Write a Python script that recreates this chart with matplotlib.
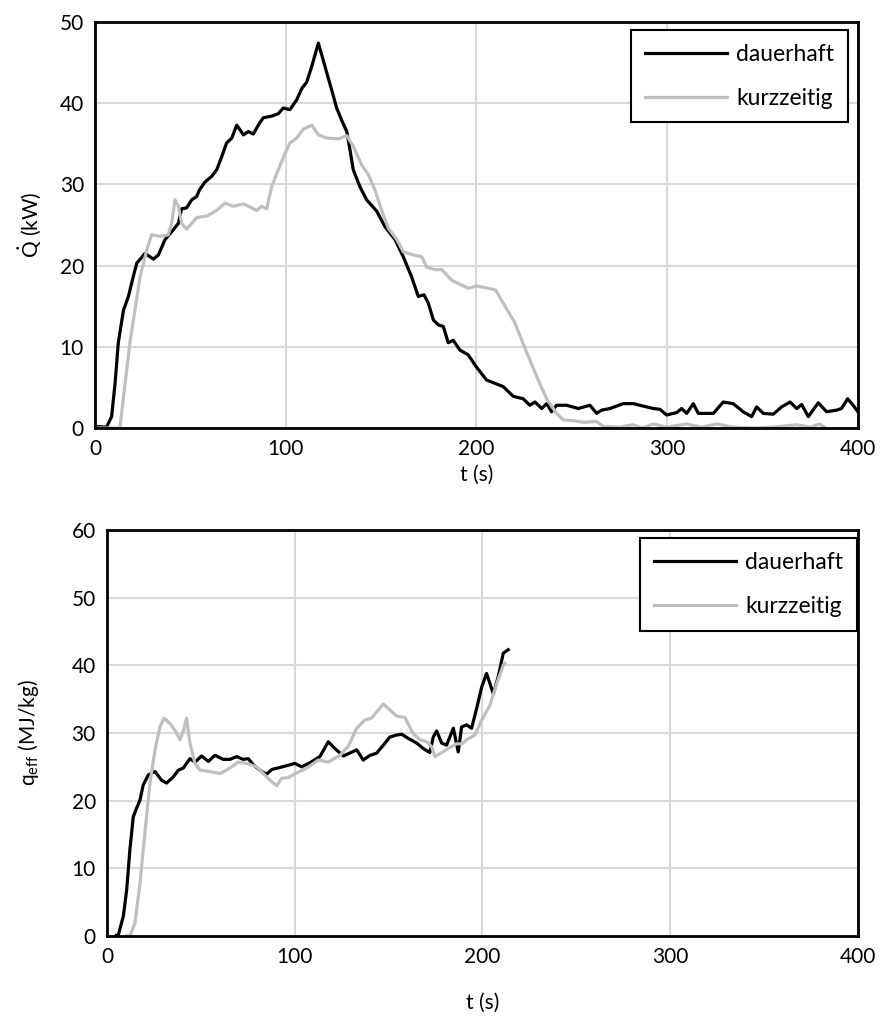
import matplotlib
matplotlib.use('Agg')
import matplotlib.pyplot as plt

plt.rcParams['font.family'] = ['Lato', 'DejaVu Sans']
plt.rcParams['mathtext.fontset'] = 'custom'
plt.rcParams['mathtext.rm'] = 'Lato'
plt.rcParams['mathtext.it'] = 'Lato:italic'

# ---------------- top: heat release rate Q (kW) ----------------
t_q_dauer = [0, 6, 8.7, 10.5, 12.2, 14.9, 17.5, 20, 21.9, 26.2, 30.6, 33.2, 36.7, 41, 43.7, 45.4,
             48, 50.7, 53.3, 54.7, 57.7, 61.2, 63.8, 66.4, 69, 71.7, 74.3, 77.8, 80.4, 83, 85.6,
             88.2, 92.6, 96.1, 98.7, 102.2, 105.7, 108.4, 111, 113.6, 117.1, 120.6, 124.1, 126.7,
             129.3, 132, 133.7, 135.4, 138.9, 142.4, 147.7, 152, 157.3, 161.6, 166, 169.5, 172.5,
             174.7, 177.4, 180, 182.6, 185.2, 187.8, 191.3, 195.7, 200, 205.3, 214, 219.3, 224.5,
             228, 230.7, 234.2, 236.8, 239.4, 242, 247.3, 253.4, 259.5, 263, 265.6, 270, 277, 282.2,
             287.4, 292.7, 296.2, 299.7, 305, 307.6, 310.2, 313.7, 316.3, 320.7, 324.2, 329.4, 334.6,
             339.8, 344.3, 346.9, 350.4, 355.6, 360, 364.4, 367.9, 370.5, 374, 379.2, 383.6, 388.8,
             391.4, 394.6, 397.5, 400]
q_dauer = [0.2, 0.1, 1.4, 5.5, 10.5, 14.5, 16.2, 18.6, 20.3, 21.5, 20.8, 21.3, 23.2, 24.4, 25.2, 27,
           27.1, 28.1, 28.5, 29.3, 30.3, 31, 31.8, 33.4, 35.1, 35.7, 37.3, 36.1, 36.5, 36.2, 37.3,
           38.2, 38.4, 38.7, 39.4, 39.2, 40.4, 41.8, 42.6, 44.5, 47.4, 44.5, 41.6, 39.4,
           37.9, 36.5, 34.2, 31.8, 29.7, 28.1, 26.7, 24.8, 23.2, 21.1, 18.6, 16.2, 16.4,
           15.4, 13.3, 12.7, 12.5, 10.5, 10.8, 9.6, 9.0, 7.5, 5.9, 5.1, 3.9, 3.6,
           2.8, 3.2, 2.4, 3.0, 2.0, 2.8, 2.8, 2.4, 2.8, 1.8, 2.2, 2.4, 3.0, 3.0,
           2.7, 2.4, 2.3, 1.6, 1.9, 2.4, 1.8, 3.0, 1.8, 1.8, 1.8, 3.2, 3.0,
           2.0, 1.4, 2.6, 1.8, 1.7, 2.6, 3.2, 2.4, 2.9, 1.4, 3.1, 2.0, 2.2,
           2.4, 3.6, 2.8, 2.0]

t_q_kurz = [0, 13, 18.3, 23.6, 27.1, 29.7, 34, 38.4, 40.2, 41.9, 43.7, 45.4, 48, 53.3, 58.6, 63.8,
            68.2, 72.5, 77.8, 80.4, 84.8, 87.4, 90, 92.6, 96.1, 99.6, 102.2, 105.7, 109.2, 113.6,
            117.1, 121.5, 127.6, 132, 135.4, 139.8, 143.3, 146.8, 150.3, 153.8, 158.2, 161.6,
            166.9, 171.3, 173.9, 178.2, 181.8, 187, 192.2, 195.7, 200, 210, 220, 226, 232.4, 236.8,
            242, 245.5, 251, 256, 263, 266.5, 275, 282, 287, 292.7, 300, 310, 318, 326, 335,
            345, 355, 368, 375, 380, 383]
q_kurz = [0, 0, 10.5, 18.6, 21.9, 23.8, 23.6, 23.8, 25.2, 28.1, 27.3, 25.2, 24.5, 25.9, 26.1, 26.8,
          27.7, 27.3, 27.6, 27.3, 26.8, 27.3, 27.0, 29.7, 31.8, 33.8, 35.1, 35.7, 36.8, 37.3,
          36.1, 35.7, 35.6, 36.0, 34.7, 32.4, 31.2, 29.3, 26.8, 24.6, 23.2, 21.7,
          21.3, 21.1, 19.8, 19.5, 19.5, 18.2, 17.6, 17.2, 17.5, 17.0, 13.0, 9.5, 5.9, 3.6,
          1.8, 1.0, 0.9, 0.7, 0.8, 0.2, 0.1, 0.4, 0.0, 0.5, 0.1, 0.5, 0.1, 0.5, 0.1,
          0.0, 0.1, 0.4, 0.1, 0.5, 0.0]

# ---------------- bottom: effective heat of combustion (MJ/kg) ----------------
t_h_dauer = [5, 6, 8.7, 10.5, 12.2, 14, 15.8, 17.6, 19.3, 22, 25.6, 29.1, 31.8, 35.3, 38, 40.6, 44.2,
             46.9, 50.4, 54, 57.5, 61.9, 65.5, 69.1, 72.6, 75.3, 77.9, 82.4, 85.1, 87.7, 92.1, 97.5,
             100.1, 103.7, 108.1, 113.4, 117.9, 121.4, 125.9, 133, 136.5, 140.1, 143.6, 147.2, 150.7,
             154.3, 157, 160.5, 165, 168.5, 172, 173.8, 175.6, 178.3, 180.9, 184.5, 187.1, 188.9,
             191.6, 194.2, 196.9, 199.6, 202.2, 205.8, 208.4, 211.1, 213.7]
h_dauer = [0.1, 0.1, 2.9, 6.8, 12.7, 17.6, 18.9, 20.1, 22.3, 23.8, 24.3, 23.0, 22.6, 23.5, 24.5, 24.8, 26.2,
           25.7, 26.6, 25.8, 26.7, 26.1, 26.1, 26.5, 26.1, 26.2, 25.3, 24.3, 23.9, 24.6, 24.9, 25.3,
           25.5, 25.0, 25.6, 26.5, 28.7, 27.7, 26.6, 27.5, 26.0, 26.7, 27.0, 28.2, 29.4,
           29.7, 29.8, 29.2, 28.5, 27.7, 27.1, 29.4, 30.3, 28.5, 28.2, 30.7, 27.2, 30.9,
           31.2, 30.7, 33.6, 36.8, 38.8, 35.8, 38.3, 41.8, 42.3]

t_h_kurz = [10, 12.2, 14.9, 17.6, 20.2, 22.9, 25.6, 28.2, 30.4, 33.6, 36.2, 38.9, 40.6, 42.4, 44.2,
            46.9, 49.5, 54.9, 60.2, 65.5, 69.9, 74.4, 79.7, 83.3, 87.7, 90.4, 93, 96.6, 101, 106.4,
            112.5, 117.9, 124.1, 128.5, 133, 137.4, 141, 144.5, 147.2, 150.7, 154.3, 158.7, 163.1,
            166.7, 170.3, 172.9, 174.7, 178.3, 181.8, 186.3, 189, 191.6, 196, 199.6, 204, 207.6,
            211.1, 212]
h_kurz = [0, 0, 1.9, 7.8, 15.2, 22.6, 27.5, 30.9, 32.2, 31.4, 30.4, 29.0, 30.2, 32.2, 28.5,
          25.5, 24.5, 24.3, 24.0, 24.8, 25.7, 25.5, 25.0, 24.0, 22.8, 22.2, 23.3, 23.4, 24.1, 24.8,
          26.0, 25.7, 26.7, 28.0, 30.7, 31.9, 32.2, 33.4, 34.3, 33.4, 32.5, 32.3, 29.9,
          29.0, 28.7, 28.0, 26.5, 27.1, 27.7, 28.4, 28.4, 29.0, 29.7, 31.9, 34.1, 37.3,
          40.0, 40.3]

BLACK = '#000000'
GREY = '#bfbfbf'
GRID = '#d9d9d9'
FS = 15

fig = plt.figure(figsize=(8.84, 10.21), dpi=100)
ax1 = fig.add_axes([0.1075, 0.5808, 0.863, 0.3977])
ax2 = fig.add_axes([0.121, 0.0833, 0.8495, 0.3976])


def style(ax, ymax, ystep):
    ax.set_xlim(0, 400)
    ax.set_ylim(0, ymax)
    ax.set_xticks(range(0, 401, 100))
    ax.set_yticks(range(0, ymax + 1, ystep))
    ax.grid(True, color=GRID, linewidth=1.5)
    ax.set_axisbelow(True)
    ax.tick_params(length=0, labelsize=FS, pad=8)
    for s in ax.spines.values():
        s.set_color('black')
        s.set_linewidth(2)
    ax.set_xlabel('t (s)', fontsize=FS)


style(ax1, 50, 10)
ax1.plot(t_q_dauer, q_dauer, color=BLACK, lw=2.3, label='dauerhaft')
ax1.plot(t_q_kurz, q_kurz, color=GREY, lw=2.3, label='kurzzeitig')
ax1.set_ylabel(r'$\dot{\mathrm{Q}}$ (kW)', fontsize=FS)
ax1.xaxis.set_label_coords(0.5, -0.09)
ax1.yaxis.set_label_coords(-0.068, 0.5)

style(ax2, 60, 10)
ax2.plot(t_h_dauer, h_dauer, color=BLACK, lw=2.3, label='dauerhaft')
ax2.plot(t_h_kurz, h_kurz, color=GREY, lw=2.3, label='kurzzeitig')
ax2.set_ylabel(r'q$_{\mathrm{eff}}$ (MJ/kg)', fontsize=FS)
ax2.xaxis.set_label_coords(0.5, -0.14)
ax2.yaxis.set_label_coords(-0.088, 0.5)

for ax, anchor in [(ax1, (0.987, 0.98)), (ax2, (0.999, 0.98))]:
    leg = ax.legend(loc='upper right', bbox_to_anchor=anchor, fontsize=16.5, fancybox=False,
                    framealpha=1, edgecolor='black', handlelength=3.6, handletextpad=0.4,
                    borderpad=0.6, labelspacing=1.0, borderaxespad=0)
    leg.get_frame().set_linewidth(1.5)

fig.savefig('out.png', dpi=100)
